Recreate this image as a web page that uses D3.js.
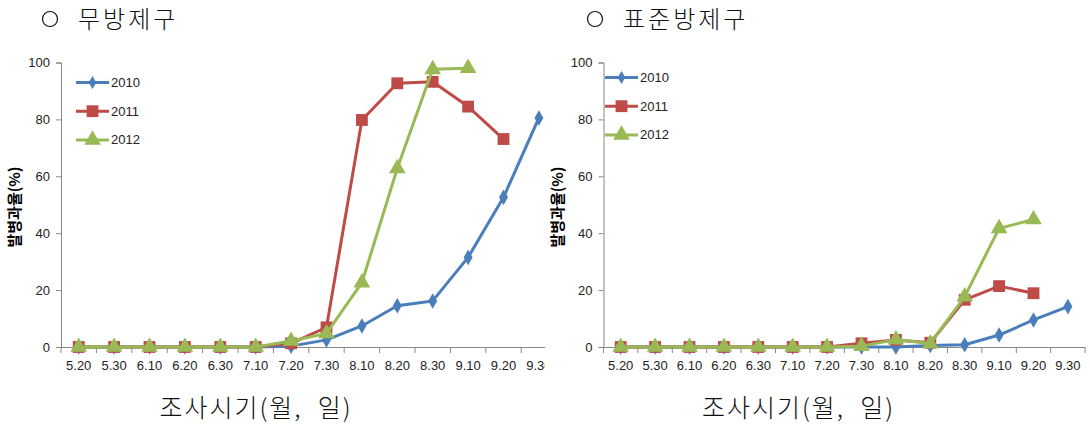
<!DOCTYPE html>
<html>
<head>
<meta charset="utf-8">
<script src="https://cdn.jsdelivr.net/npm/d3@7"></script>
<style>
  body { margin: 0; background: #fff; }
  svg { display: block; }
</style>
</head>
<body>
<svg id="chart"></svg>
<script>
// categories and series
const dates = ['5.20', '5.30', '6.10', '6.20', '6.30', '7.10', '7.20', '7.30', '8.10', '8.20', '8.30', '9.10', '9.20', '9.30'];
const years = ['2010', '2011', '2012'];
const yTicks = [0, 20, 40, 60, 80, 100];

// 무방제구 (untreated)
const untreated2010 = [0, 0, 0, 0, 0, 0, 0.3, 2.5, 7.4, 14.5, 16.2, 31.5, 52.6, 80.5];
const untreated2011 = [0, 0, 0, 0, 0, 0, 1.3, 6.9, 79.8, 92.7, 93.2, 84.5, 73.1, null];
const untreated2012 = [0, 0, 0, 0, 0, 0, 2.1, 4.8, 22.6, 62.8, 97.6, 98.0, null, null];

// 표준방제구 (standard control)
const standard2010 = [0, 0, 0, 0, 0, 0, 0, 0, 0, 0.5, 0.8, 4.2, 9.5, 14.2];
const standard2011 = [0, 0, 0, 0, 0, 0, 0, 1.3, 2.5, 1.5, 16.6, 21.4, 18.9, null];
const standard2012 = [0, 0, 0, 0, 0, 0, 0, 0.3, 2.6, 1.2, 17.7, 41.7, 44.8, null];

const colors = ['#4a7ebb', '#be4b48', '#98b954'];
const symbols = [d3.symbolDiamond, d3.symbolSquare, d3.symbolTriangle];
const symbolSizes = [70, 140, 120];

const svg = d3.select('#chart').attr('width', 1090).attr('height', 425);

const kr = "'Noto Sans CJK KR', sans-serif";
const num = "'Liberation Sans', Arial, sans-serif";

function drawPanel(opts) {
  const g = svg.append('g');

  // clip (left panel is cut off at the image seam)
  const clipId = 'clip' + opts.id;
  svg.append('clipPath').attr('id', clipId)
    .append('rect').attr('x', opts.clipX0).attr('y', 0)
    .attr('width', opts.clipX1 - opts.clipX0).attr('height', 425);
  g.attr('clip-path', `url(#${clipId})`);

  const x = d3.scaleBand().domain(dates)
    .range([opts.axisX, opts.axisX + opts.band * dates.length]);
  const y = d3.scaleLinear().domain([0, 100]).range([347, 62.5]);

  // title
  g.append('circle')
    .attr('cx', opts.titleX + 8).attr('cy', 19).attr('r', 7.5)
    .attr('fill', 'none').attr('stroke', '#111').attr('stroke-width', 1.2);
  g.append('text')
    .attr('x', opts.titleX + 36).attr('y', 28)
    .style('font-family', kr).style('font-size', '24px').style('font-weight', 300)
    .style('letter-spacing', '3px').style('fill', '#111')
    .text(opts.title);

  // y axis
  const yAxis = g.append('g')
    .attr('transform', `translate(${opts.axisX},0)`)
    .call(d3.axisLeft(y).tickValues(yTicks).tickSize(5).tickPadding(6));
  yAxis.select('.domain').attr('stroke', '#888');
  yAxis.selectAll('.tick line').attr('stroke', '#888');
  yAxis.selectAll('text')
    .style('font-family', num).style('font-size', '13px').style('fill', '#222');

  // x axis
  const xAxis = g.append('g')
    .attr('transform', 'translate(0,347)')
    .call(d3.axisBottom(x).tickSize(0).tickPadding(14));
  xAxis.select('.domain').attr('stroke', '#888');
  xAxis.selectAll('text')
    .style('font-family', num).style('font-size', '13px').style('fill', '#222');
  // tick marks between categories
  g.append('g').selectAll('line')
    .data(d3.range(dates.length + 1))
    .join('line')
    .attr('x1', (i) => opts.axisX + i * opts.band)
    .attr('x2', (i) => opts.axisX + i * opts.band)
    .attr('y1', 347).attr('y2', 353)
    .attr('stroke', '#888');

  // axis titles
  g.append('text')
    .attr('transform', `translate(${opts.axisX - 41},207) rotate(-90)`)
    .attr('text-anchor', 'middle')
    .style('font-family', kr).style('font-size', '15px').style('font-weight', 'bold')
    .text('발병과율(%)');

  g.append('text')
    .attr('x', opts.axisX + 195).attr('y', 417)
    .attr('text-anchor', 'middle')
    .attr('xml:space', 'preserve')
    .style('font-family', kr).style('font-size', '25px').style('font-weight', 300)
    .style('letter-spacing', '2px').style('white-space', 'pre').style('fill', '#111')
    .text('조사시기(월,  일)');

  const cx = (i) => x(dates[i]) + x.bandwidth() / 2;
  const line = d3.line()
    .defined((d) => d != null)
    .x((d, i) => cx(i))
    .y((d) => y(d));

  opts.series.forEach((vals, s) => {
    g.append('path')
      .attr('d', line(vals))
      .attr('fill', 'none')
      .attr('stroke', colors[s])
      .attr('stroke-width', 3)
      .attr('stroke-linejoin', 'round');

    g.append('g').selectAll('path')
      .data(vals.map((v, i) => ({ v, i })).filter((d) => d.v != null))
      .join('path')
      .attr('d', d3.symbol(symbols[s], symbolSizes[s]))
      .attr('transform', (d) => `translate(${cx(d.i)},${y(d.v)})`)
      .attr('fill', colors[s]);
  });

  // legend
  const leg = g.append('g');
  years.forEach((yr, s) => {
    const ly = opts.legendY + s * 28.7;
    leg.append('line')
      .attr('x1', opts.legendX).attr('x2', opts.legendX + 33)
      .attr('y1', ly).attr('y2', ly)
      .attr('stroke', colors[s]).attr('stroke-width', 3);
    leg.append('path')
      .attr('d', d3.symbol(symbols[s], s === 0 ? 50 : symbolSizes[s]))
      .attr('transform', `translate(${opts.legendX + 16.5},${ly})`)
      .attr('fill', colors[s]);
    leg.append('text')
      .attr('x', opts.legendX + 35).attr('y', ly + 4.5)
      .style('font-family', num).style('font-size', '13px').style('fill', '#222')
      .text(yr);
  });
}

drawPanel({
  id: 'a', title: '무방제구', titleX: 42,
  axisX: 61, band: 35.4, clipX0: 0, clipX1: 545,
  legendX: 76, legendY: 82.5,
  series: [untreated2010, untreated2011, untreated2012]
});

drawPanel({
  id: 'b', title: '표준방제구', titleX: 587,
  axisX: 603.5, band: 34.4, clipX0: 545, clipX1: 1090,
  legendX: 605, legendY: 77.5,
  series: [standard2010, standard2011, standard2012]
});
</script>
</body>
</html>
